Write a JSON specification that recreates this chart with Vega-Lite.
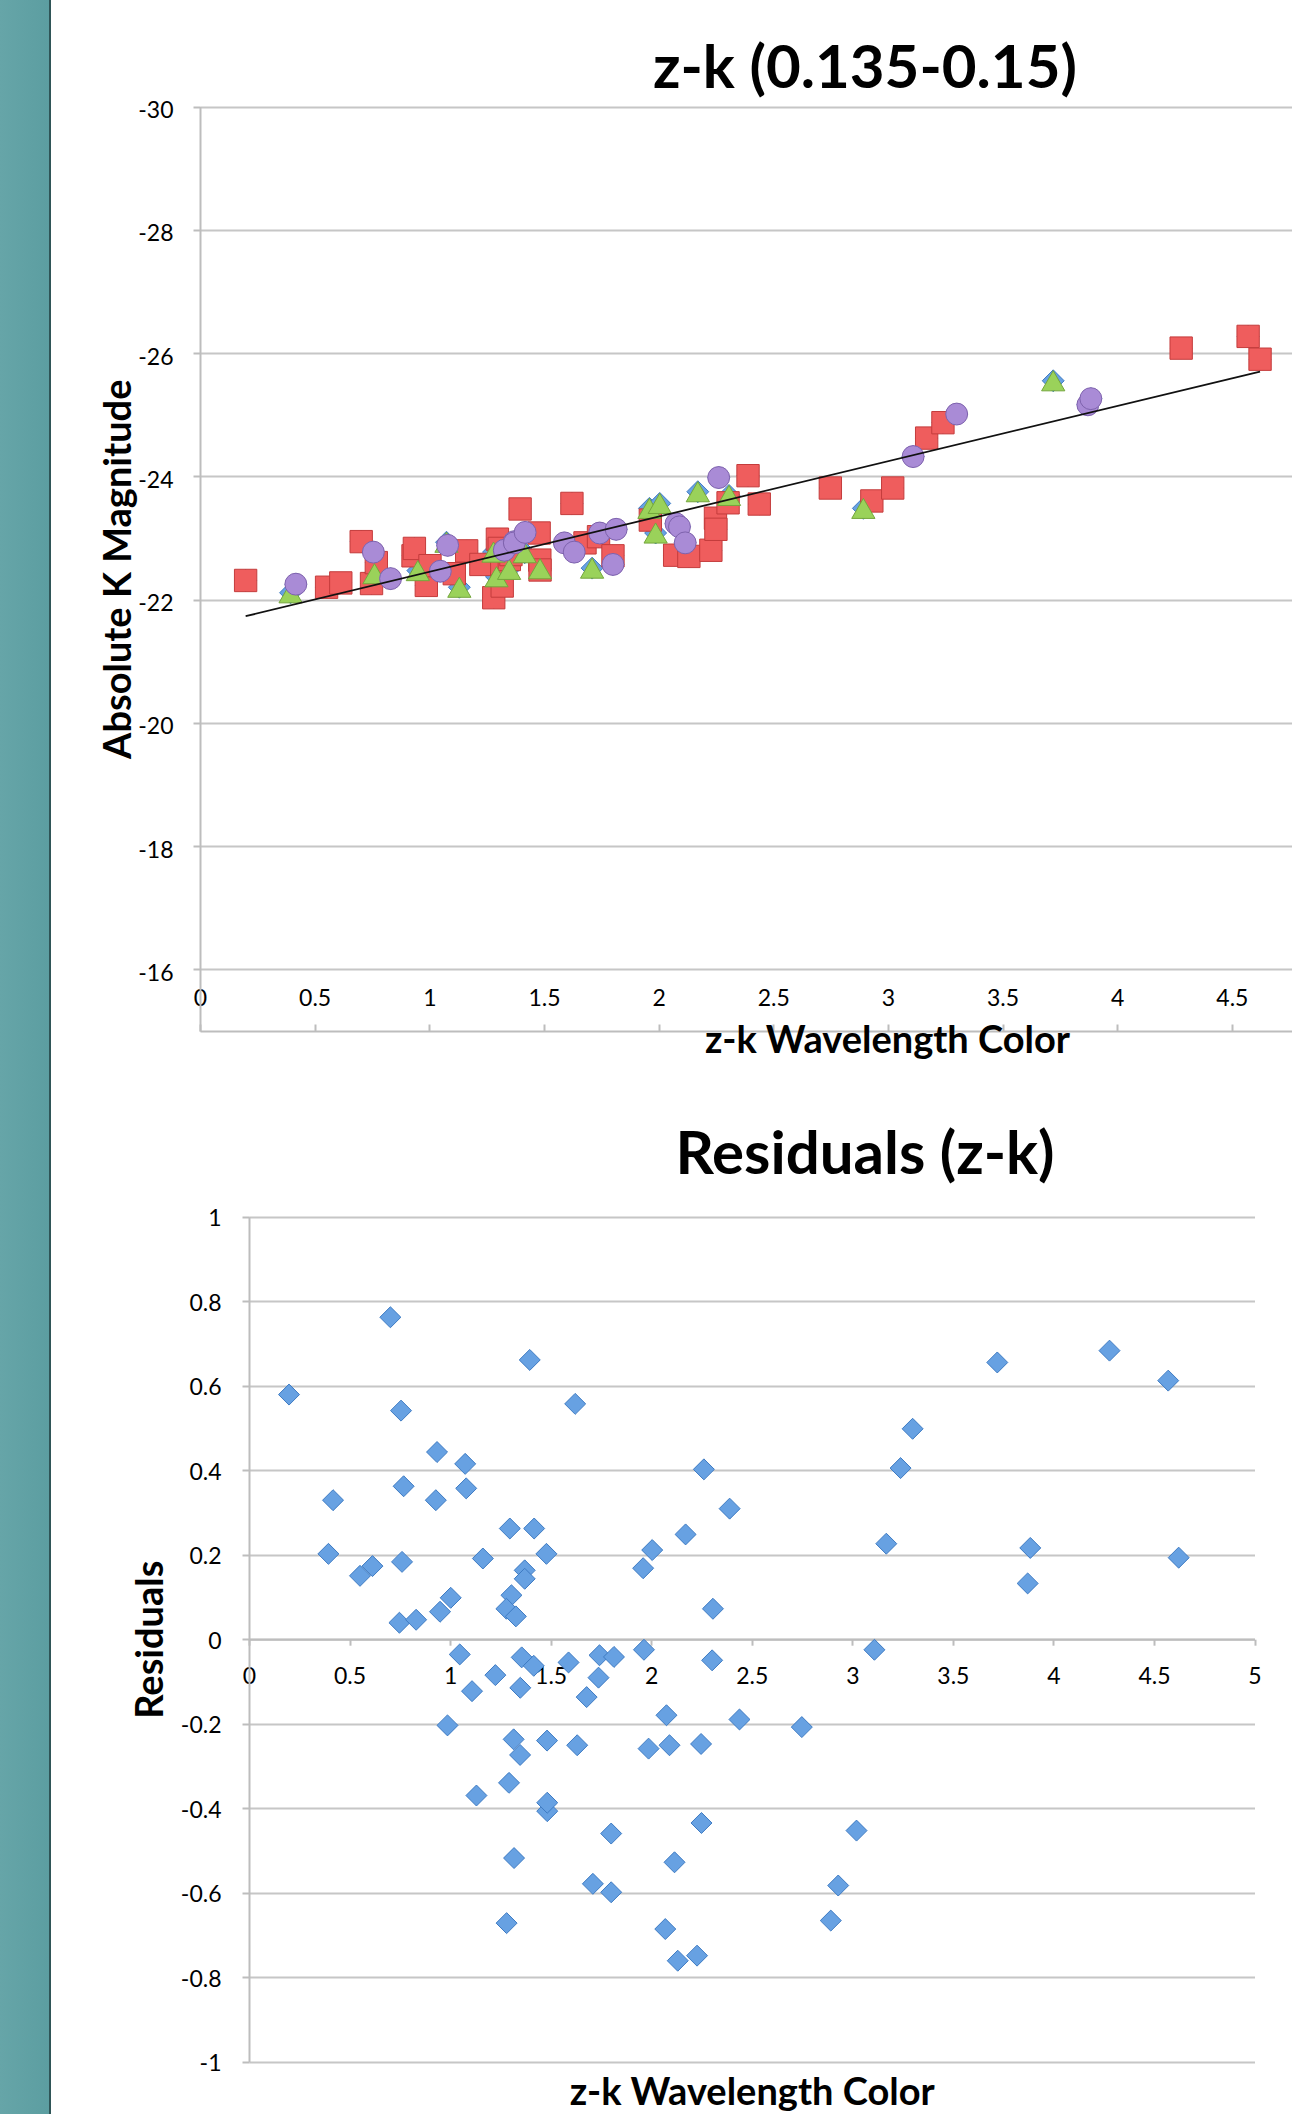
{
  "$schema": "https://vega.github.io/schema/vega-lite/v6.json",
  "width": 1292,
  "height": 2114,
  "autosize": "none",
  "padding": 0,
  "background": "#ffffff",
  "title": {
    "text": "z-k (0.135-0.15)",
    "subtitle": "Residuals (z-k)",
    "anchor": "start",
    "frame": "group",
    "align": "center",
    "dx": 865,
    "offset": -1187,
    "font": "Lato",
    "fontSize": 60,
    "fontWeight": "bold",
    "color": "#000000",
    "subtitleFont": "Lato",
    "subtitleFontSize": 60,
    "subtitleFontWeight": "bold",
    "subtitleColor": "#000000",
    "subtitlePadding": 1026
  },
  "config": {
    "view": {
      "stroke": null,
      "fill": {
        "gradient": "linear",
        "x1": 0, "y1": 0, "x2": 1, "y2": 0,
        "stops": [
          {"offset": 0, "color": "#66a5a8"},
          {"offset": 0.0378, "color": "#5c9ea1"},
          {"offset": 0.0379, "color": "#2f5557"},
          {"offset": 0.0394, "color": "#2f5557"},
          {"offset": 0.0395, "color": "#ffffff"},
          {"offset": 1, "color": "#ffffff"}
        ]
      }
    },
    "axis": {
      "domainColor": "#bdbdbd",
      "domainWidth": 2,
      "tickColor": "#bdbdbd",
      "tickWidth": 2,
      "gridColor": "#c6c6c6",
      "gridWidth": 2,
      "labelFont": "Lato",
      "labelFontSize": 23,
      "labelColor": "#000000",
      "labelFlush": false,
      "labelOverlap": false,
      "labelBound": false,
      "titleFont": "Lato",
      "titleFontSize": 38,
      "titleFontWeight": "bold",
      "titleColor": "#000000"
    }
  },
  "datasets": {
    "pts": [
      {"x": 0.199, "mag": -22.31, "res": 0.579, "series": "Series 2"},
      {"x": 0.552, "mag": -22.20, "res": 0.150, "series": "Series 2"},
      {"x": 0.614, "mag": -22.27, "res": 0.173, "series": "Series 2"},
      {"x": 0.703, "mag": -22.94, "res": 0.762, "series": "Series 2"},
      {"x": 0.748, "mag": -22.26, "res": 0.039, "series": "Series 2"},
      {"x": 0.769, "mag": -22.60, "res": 0.362, "series": "Series 2"},
      {"x": 0.929, "mag": -22.71, "res": 0.329, "series": "Series 2"},
      {"x": 0.935, "mag": -22.83, "res": 0.443, "series": "Series 2"},
      {"x": 0.987, "mag": -22.23, "res": -0.204, "series": "Series 2"},
      {"x": 1.003, "mag": -22.55, "res": 0.098, "series": "Series 2"},
      {"x": 1.109, "mag": -22.42, "res": -0.123, "series": "Series 2"},
      {"x": 1.163, "mag": -22.79, "res": 0.191, "series": "Series 2"},
      {"x": 1.225, "mag": -22.57, "res": -0.085, "series": "Series 2"},
      {"x": 1.281, "mag": -22.03, "res": -0.672, "series": "Series 2"},
      {"x": 1.297, "mag": -22.98, "res": 0.262, "series": "Series 2"},
      {"x": 1.305, "mag": -22.83, "res": 0.104, "series": "Series 2"},
      {"x": 1.316, "mag": -22.50, "res": -0.237, "series": "Series 2"},
      {"x": 1.318, "mag": -22.22, "res": -0.518, "series": "Series 2"},
      {"x": 1.349, "mag": -22.65, "res": -0.115, "series": "Series 2"},
      {"x": 1.356, "mag": -22.73, "res": -0.043, "series": "Series 2"},
      {"x": 1.396, "mag": -23.47, "res": 0.661, "series": "Series 2"},
      {"x": 1.479, "mag": -23.08, "res": 0.202, "series": "Series 2"},
      {"x": 1.482, "mag": -22.64, "res": -0.240, "series": "Series 2"},
      {"x": 1.483, "mag": -22.48, "res": -0.407, "series": "Series 2"},
      {"x": 1.622, "mag": -23.56, "res": 0.557, "series": "Series 2"},
      {"x": 1.679, "mag": -22.92, "res": -0.137, "series": "Series 2"},
      {"x": 1.738, "mag": -23.02, "res": -0.091, "series": "Series 2"},
      {"x": 1.801, "mag": -22.71, "res": -0.460, "series": "Series 2"},
      {"x": 1.964, "mag": -23.29, "res": -0.025, "series": "Series 2"},
      {"x": 2.070, "mag": -22.72, "res": -0.686, "series": "Series 2"},
      {"x": 2.132, "mag": -22.70, "res": -0.761, "series": "Series 2"},
      {"x": 2.228, "mag": -22.80, "res": -0.749, "series": "Series 2"},
      {"x": 2.248, "mag": -23.32, "res": -0.248, "series": "Series 2"},
      {"x": 2.250, "mag": -23.14, "res": -0.435, "series": "Series 2"},
      {"x": 2.303, "mag": -23.57, "res": -0.050, "series": "Series 2"},
      {"x": 2.390, "mag": -24.01, "res": 0.309, "series": "Series 2"},
      {"x": 2.439, "mag": -23.55, "res": -0.190, "series": "Series 2"},
      {"x": 2.749, "mag": -23.81, "res": -0.208, "series": "Series 2"},
      {"x": 2.930, "mag": -23.60, "res": -0.583, "series": "Series 2"},
      {"x": 3.021, "mag": -23.81, "res": -0.453, "series": "Series 2"},
      {"x": 3.169, "mag": -24.62, "res": 0.226, "series": "Series 2"},
      {"x": 3.240, "mag": -24.87, "res": 0.405, "series": "Series 2"},
      {"x": 4.279, "mag": -26.08, "res": 0.683, "series": "Series 2"},
      {"x": 4.571, "mag": -26.27, "res": 0.612, "series": "Series 2"},
      {"x": 4.623, "mag": -25.90, "res": 0.193, "series": "Series 2"},
      {"x": 0.395, "mag": -22.11, "res": 0.202, "series": "Series 3"},
      {"x": 0.761, "mag": -22.42, "res": 0.183, "series": "Series 3"},
      {"x": 0.950, "mag": -22.47, "res": 0.065, "series": "Series 3"},
      {"x": 1.075, "mag": -22.93, "res": 0.415, "series": "Series 3"},
      {"x": 1.131, "mag": -22.20, "res": -0.370, "series": "Series 3"},
      {"x": 1.280, "mag": -22.77, "res": 0.072, "series": "Series 3"},
      {"x": 1.293, "mag": -22.37, "res": -0.340, "series": "Series 3"},
      {"x": 1.348, "mag": -22.49, "res": -0.274, "series": "Series 3"},
      {"x": 1.416, "mag": -22.76, "res": -0.063, "series": "Series 3"},
      {"x": 1.483, "mag": -22.50, "res": -0.387, "series": "Series 3"},
      {"x": 1.710, "mag": -22.51, "res": -0.579, "series": "Series 3"},
      {"x": 1.960, "mag": -23.48, "res": 0.168, "series": "Series 3"},
      {"x": 1.987, "mag": -23.08, "res": -0.259, "series": "Series 3"},
      {"x": 2.005, "mag": -23.56, "res": 0.211, "series": "Series 3"},
      {"x": 2.171, "mag": -23.75, "res": 0.248, "series": "Series 3"},
      {"x": 2.307, "mag": -23.69, "res": 0.072, "series": "Series 3"},
      {"x": 2.893, "mag": -23.48, "res": -0.666, "series": "Series 3"},
      {"x": 3.721, "mag": -25.55, "res": 0.655, "series": "Series 3"},
      {"x": 0.418, "mag": -22.25, "res": 0.329, "series": "Series 4"},
      {"x": 0.756, "mag": -22.77, "res": 0.541, "series": "Series 4"},
      {"x": 0.831, "mag": -22.34, "res": 0.046, "series": "Series 4"},
      {"x": 1.048, "mag": -22.46, "res": -0.036, "series": "Series 4"},
      {"x": 1.080, "mag": -22.88, "res": 0.357, "series": "Series 4"},
      {"x": 1.327, "mag": -22.80, "res": 0.054, "series": "Series 4"},
      {"x": 1.371, "mag": -22.94, "res": 0.163, "series": "Series 4"},
      {"x": 1.371, "mag": -22.92, "res": 0.143, "series": "Series 4"},
      {"x": 1.418, "mag": -23.09, "res": 0.262, "series": "Series 4"},
      {"x": 1.589, "mag": -22.92, "res": -0.055, "series": "Series 4"},
      {"x": 1.632, "mag": -22.77, "res": -0.251, "series": "Series 4"},
      {"x": 1.743, "mag": -23.08, "res": -0.038, "series": "Series 4"},
      {"x": 1.801, "mag": -22.57, "res": -0.599, "series": "Series 4"},
      {"x": 1.815, "mag": -23.14, "res": -0.042, "series": "Series 4"},
      {"x": 2.076, "mag": -23.23, "res": -0.180, "series": "Series 4"},
      {"x": 2.091, "mag": -23.18, "res": -0.251, "series": "Series 4"},
      {"x": 2.116, "mag": -22.92, "res": -0.528, "series": "Series 4"},
      {"x": 2.262, "mag": -23.98, "res": 0.402, "series": "Series 4"},
      {"x": 3.110, "mag": -24.32, "res": -0.025, "series": "Series 4"},
      {"x": 3.300, "mag": -25.01, "res": 0.498, "series": "Series 4"},
      {"x": 3.872, "mag": -25.16, "res": 0.132, "series": "Series 4"},
      {"x": 3.885, "mag": -25.26, "res": 0.216, "series": "Series 4"}
    ],
    "trend": [
      {"x": 0.199, "mag": -21.73},
      {"x": 4.623, "mag": -25.70}
    ]
  },
  "layer": [
    {
      "layer": [
        {
          "data": {"name": "pts"},
          "mark": {"type": "point", "shape": "diamond", "filled": true, "size": 480, "fill": "#67a1e2", "stroke": "#3e7bc3", "strokeWidth": 1, "opacity": 1},
          "encoding": {
            "x": {
              "field": "x", "type": "quantitative",
              "scale": {"domain": [0, 5], "range": [200, 1346.5], "nice": false, "zero": false},
              "axis": {
                "orient": "bottom", "offset": -1083,
                "values": [0, 0.5, 1, 1.5, 2, 2.5, 3, 3.5, 4, 4.5],
                "grid": false, "tickSize": -7, "labelPadding": -26, "labelBaseline": "middle",
                "labelExpr": "'' + datum.value",
                "title": "z-k Wavelength Color", "titleX": 887, "titleY": 10,
                "titleAlign": "center", "titleBaseline": "middle", "titleAngle": 0
              }
            },
            "y": {
              "field": "mag", "type": "quantitative",
              "scale": {"domain": [-30, -15], "range": [106.5, 1031], "nice": false, "zero": false},
              "axis": {
                "orient": "left", "offset": -200,
                "values": [-30, -28, -26, -24, -22, -20, -18, -16],
                "grid": true, "tickSize": 7, "labelPadding": 20, "labelOffset": 4,
                "labelExpr": "'' + datum.value",
                "title": "Absolute K Magnitude", "titleX": -81, "titleY": 568.75,
                "titleAngle": 270, "titleAlign": "center", "titleBaseline": "middle"
              }
            }
          }
        },
        {
          "data": {"name": "pts"},
          "transform": [{"filter": "datum.series === 'Series 2'"}],
          "mark": {"type": "point", "shape": "square", "filled": true, "size": 500, "fill": "#ef5d5d", "stroke": "#c43c3c", "strokeWidth": 1, "opacity": 1},
          "encoding": {
            "x": {"field": "x", "type": "quantitative", "scale": {"domain": [0, 5], "range": [200, 1346.5], "nice": false, "zero": false}},
            "y": {"field": "mag", "type": "quantitative", "scale": {"domain": [-30, -15], "range": [106.5, 1031], "nice": false, "zero": false}}
          }
        },
        {
          "data": {"name": "pts"},
          "transform": [{"filter": "datum.series === 'Series 3'"}],
          "mark": {"type": "point", "shape": "triangle-up", "filled": true, "size": 540, "fill": "#9ad25a", "stroke": "#74a63c", "strokeWidth": 1, "opacity": 1},
          "encoding": {
            "x": {"field": "x", "type": "quantitative", "scale": {"domain": [0, 5], "range": [200, 1346.5], "nice": false, "zero": false}},
            "y": {"field": "mag", "type": "quantitative", "scale": {"domain": [-30, -15], "range": [106.5, 1031], "nice": false, "zero": false}}
          }
        },
        {
          "data": {"name": "pts"},
          "transform": [{"filter": "datum.series === 'Series 4'"}],
          "mark": {"type": "point", "shape": "circle", "filled": true, "size": 480, "fill": "#a98bd6", "stroke": "#7e62ad", "strokeWidth": 1, "opacity": 1},
          "encoding": {
            "x": {"field": "x", "type": "quantitative", "scale": {"domain": [0, 5], "range": [200, 1346.5], "nice": false, "zero": false}},
            "y": {"field": "mag", "type": "quantitative", "scale": {"domain": [-30, -15], "range": [106.5, 1031], "nice": false, "zero": false}}
          }
        },
        {
          "data": {"name": "trend"},
          "mark": {"type": "line", "color": "#111111", "strokeWidth": 1.8},
          "encoding": {
            "x": {"field": "x", "type": "quantitative", "scale": {"domain": [0, 5], "range": [200, 1346.5], "nice": false, "zero": false}},
            "y": {"field": "mag", "type": "quantitative", "scale": {"domain": [-30, -15], "range": [106.5, 1031], "nice": false, "zero": false}}
          }
        }
      ]
    },
    {
      "data": {"name": "pts"},
      "mark": {"type": "point", "shape": "diamond", "filled": true, "size": 440, "fill": "#67a1e2", "stroke": "#3e7bc3", "strokeWidth": 1, "opacity": 1},
      "encoding": {
        "x": {
          "field": "x", "type": "quantitative",
          "scale": {"domain": [0, 5], "range": [249, 1254.5], "nice": false, "zero": false},
          "axis": {
            "orient": "bottom", "offset": -474.8,
            "values": [0, 0.5, 1, 1.5, 2, 2.5, 3, 3.5, 4, 4.5, 5],
            "grid": false, "tickSize": 6, "labelPadding": 31, "labelBaseline": "middle",
            "labelExpr": "'' + datum.value",
            "title": "z-k Wavelength Color", "titleX": 751.7, "titleY": 454,
            "titleAlign": "center", "titleBaseline": "middle", "titleAngle": 0
          }
        },
        "y": {
          "field": "res", "type": "quantitative",
          "scale": {"domain": [-1, 1], "range": [2061.7, 1216.7], "nice": false, "zero": false},
          "axis": {
            "orient": "left", "offset": -249,
            "values": [-1, -0.8, -0.6, -0.4, -0.2, 0, 0.2, 0.4, 0.6, 0.8, 1],
            "grid": true, "tickSize": 7, "labelPadding": 21, "labelOffset": 2,
            "labelExpr": "'' + datum.value",
            "title": "Residuals", "titleX": -98, "titleY": 1639.2,
            "titleAngle": 270, "titleAlign": "center", "titleBaseline": "middle"
          }
        }
      }
    }
  ],
  "resolve": {"scale": {"x": "independent", "y": "independent"}}
}
